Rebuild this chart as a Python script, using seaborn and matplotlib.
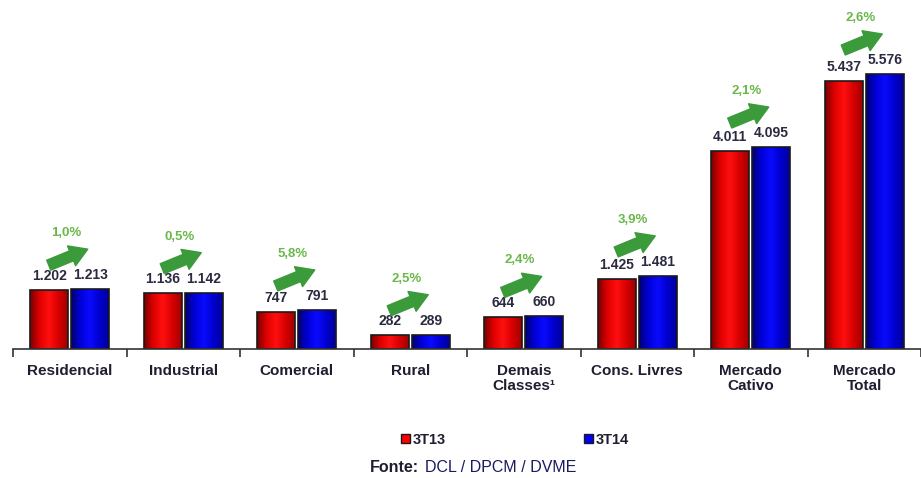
import numpy as np
import pandas as pd
import seaborn as sns
import matplotlib.pyplot as plt
from matplotlib.colors import LinearSegmentedColormap
from matplotlib.patches import Patch
from matplotlib.transforms import offset_copy

categories = ['Residencial', 'Industrial', 'Comercial', 'Rural', 'Demais\nClasses¹',
              'Cons. Livres', 'Mercado\nCativo', 'Mercado\nTotal']
values_3t13 = [1202, 1136, 747, 282, 644, 1425, 4011, 5437]
values_3t14 = [1213, 1142, 791, 289, 660, 1481, 4095, 5576]
growth = ['1,0%', '0,5%', '5,8%', '2,5%', '2,4%', '3,9%', '2,1%', '2,6%']
series = ['3T13', '3T14']


def fmt(v):
    return f'{v:,}'.replace(',', '.')


def main():
    df = pd.DataFrame({
        'cat': categories * 2,
        'serie': [series[0]] * len(categories) + [series[1]] * len(categories),
        'valor': values_3t13 + values_3t14,
    })

    sns.set_style('white')
    plt.rcParams['font.family'] = ['Liberation Sans', 'DejaVu Sans']

    fig = plt.figure(figsize=(9.21, 4.78), dpi=100)
    ax = fig.add_axes([13 / 921, 129 / 478, 908 / 921, 339 / 478])

    sns.barplot(data=df, x='cat', y='valor', hue='serie', ax=ax,
                palette=['#ff0000', '#0000ff'], width=0.72,
                legend=False, edgecolor='#1a1a1a', linewidth=1.2)

    ax.set_xlim(-0.5, len(categories) - 0.5)
    ax.set_ylim(0, 6874)

    n = len(categories)
    bars = ax.patches[:2 * n]

    # shrink bars a little so there is a small gap between the pair
    for p in bars:
        w = p.get_width()
        cx = p.get_x() + w / 2
        nw = w * 0.93
        p.set_x(cx - nw / 2)
        p.set_width(nw)

    # horizontal gradient inside each bar
    reds = LinearSegmentedColormap.from_list('r', ['#7a0000', '#e00000', '#ff1010', '#d80000', '#a00000'])
    blues = LinearSegmentedColormap.from_list('b', ['#000070', '#0000d8', '#0a0aff', '#0000d0', '#00009a'])
    grad = np.linspace(0, 1, 64).reshape(1, -1)
    for i, p in enumerate(bars):
        x0, y0 = p.get_x(), p.get_y()
        w, h = p.get_width(), p.get_height()
        cmap = reds if i < n else blues
        im = ax.imshow(grad, cmap=cmap, aspect='auto', extent=[x0, x0 + w, y0, y0 + h],
                       zorder=p.get_zorder(), interpolation='bicubic')
        im.set_clip_path(p)
        p.set_facecolor('none')
        p.set_zorder(p.get_zorder() + 0.5)

    # value labels, growth arrows and percentages
    tr_head = offset_copy(ax.transData, fig=fig, x=18, y=40, units='dots')
    tr_tail = offset_copy(ax.transData, fig=fig, x=-21, y=24, units='dots')
    for i in range(n):
        for p, v in ((bars[i], values_3t13[i]), (bars[i + n], values_3t14[i])):
            ax.annotate(fmt(v), (p.get_x() + p.get_width() / 2, p.get_height()),
                        xytext=(0, 7), textcoords='offset pixels', ha='center', va='bottom',
                        fontsize=10, fontweight='bold', color='#2a2a40')
        top = max(values_3t13[i], values_3t14[i])
        ax.annotate('', xy=(i, top), xycoords=tr_head, xytext=(i, top), textcoords=tr_tail,
                    arrowprops=dict(arrowstyle='simple,head_width=1.1,head_length=0.9,tail_width=0.55',
                                    color='#3b9a3a', shrinkA=0, shrinkB=0, mutation_scale=14),
                    annotation_clip=False)
        ax.annotate(growth[i], (i, top), xytext=(-4, 56), textcoords='offset pixels',
                    ha='center', va='center', fontsize=9.5, fontweight='bold',
                    color='#6ab84a', annotation_clip=False)

    sns.despine(ax=ax, left=True)
    ax.spines['bottom'].set_color('#333333')
    ax.spines['bottom'].set_linewidth(1.2)
    ax.set_yticks([])
    ax.set_xlabel('')
    ax.set_ylabel('')
    ax.set_xticks(range(n))
    ax.set_xticklabels(categories, fontsize=11, fontweight='bold', color='#1e1e30',
                       va='top', linespacing=1.1)
    ax.tick_params(axis='x', which='major', length=0, pad=11)
    ax.set_xticks(np.arange(-0.5, n, 1.0), minor=True)
    ax.tick_params(axis='x', which='minor', bottom=True, length=6, width=1.2,
                   color='#333333', direction='out')

    handles = [Patch(facecolor='#ff0000', edgecolor='#1a1a1a'),
               Patch(facecolor='#0000ff', edgecolor='#1a1a1a')]
    leg = fig.legend(handles, series, loc='center', bbox_to_anchor=(515 / 921, 1 - 440 / 478),
                     ncol=2, frameon=False, handlelength=0.6, handleheight=0.6,
                     handletextpad=0.2, columnspacing=9.5,
                     prop={'weight': 'bold', 'size': 10.5})
    for t in leg.get_texts():
        t.set_color('#1e1e30')

    fig.text(419 / 921, 1 - 467 / 478, 'Fonte:', ha='right', va='center',
             fontsize=11.5, fontweight='bold', color='#1e1e30')
    fig.text(425 / 921, 1 - 467 / 478, 'DCL / DPCM / DVME', ha='left', va='center',
             fontsize=11.5, color='#1a1a60')

    fig.savefig('out.png', dpi=100)


if __name__ == '__main__':
    main()
